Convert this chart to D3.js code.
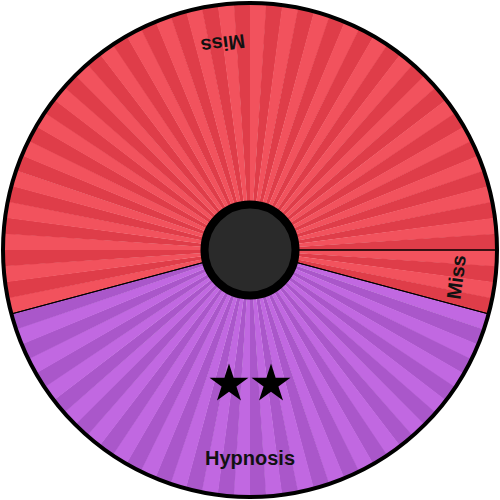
<!DOCTYPE html>
<html>
<head>
<meta charset="utf-8">
<script src="https://cdn.jsdelivr.net/npm/d3@7"></script>
<style>
  html, body { margin: 0; padding: 0; background: #ffffff; }
  svg { display: block; }
</style>
</head>
<body>
<svg id="chart" width="500" height="500"></svg>
<script>
// ---- Data ----
const segmentLabels = ["Miss", "Hypnosis", "Miss"];
const segmentSizes  = [4, 40, 52];          // wheel units (96 total)
const segmentTypes  = ["miss", "status", "miss"];
const segmentStars  = [0, 2, 0];
const wheelStartDeg = 90;                   // first segment starts at 3 o'clock

// ---- Style ----
const palette = {
  miss:   { light: "#f2525d", dark: "#df3d49" },
  status: { light: "#c168e1", dark: "#aa57ca" }
};

const W = 500, H = 500, cx = 250, cy = 250;
const outerR = 247, innerR = 45.5;
const svg = d3.select("#chart");
const g = svg.append("g").attr("transform", `translate(${cx},${cy})`);

const data = segmentLabels.map((label, i) => ({
  label, size: segmentSizes[i], type: segmentTypes[i], stars: segmentStars[i]
}));
const totalUnits = d3.sum(segmentSizes);
const unitAngle = 2 * Math.PI / totalUnits;
const start = wheelStartDeg * Math.PI / 180;

const pie = d3.pie().value(d => d.size).sort(null)
  .startAngle(start).endAngle(start + 2 * Math.PI);
const arcs = pie(data);

const arc = d3.arc().innerRadius(0).outerRadius(outerR);

// stripes: one per wheel unit, alternating shade by global unit index
arcs.forEach(a => {
  const n = a.data.size;
  const stripes = d3.range(n).map(k => {
    const s = a.startAngle + k * unitAngle;
    const idx = Math.round(s / unitAngle);
    return { startAngle: s, endAngle: s + unitAngle, idx };
  });
  g.append("g").selectAll("path").data(stripes).join("path")
    .attr("d", d => arc({ startAngle: d.startAngle, endAngle: d.endAngle + 0.002 }))
    .attr("fill", d => (((d.idx % 2) + 2) % 2 === 0) ? palette[a.data.type].light : palette[a.data.type].dark);
});

// segment boundaries
g.append("g").selectAll("path").data(arcs).join("path")
  .attr("d", arc)
  .attr("fill", "none")
  .attr("stroke", "#000")
  .attr("stroke-width", 1);

// outer rim
g.append("circle").attr("r", outerR).attr("fill", "none")
  .attr("stroke", "#000").attr("stroke-width", 4);

// labels
const labelR = 208;
const deg = r => r * 180 / Math.PI;
arcs.forEach(a => {
  const mid = (a.startAngle + a.endAngle) / 2;
  const x = labelR * Math.sin(mid), y = -labelR * Math.cos(mid);
  g.append("text")
    .attr("transform", `translate(${x},${y}) rotate(${deg(mid) + 180})`)
    .attr("text-anchor", "middle")
    .attr("dominant-baseline", "central")
    .attr("font-family", "'Liberation Sans', Arial, sans-serif")
    .attr("font-weight", "bold")
    .attr("font-size", 20)
    .attr("fill", "#111")
    .text(a.data.label);

  if (a.data.stars > 0) {
    const starR = 132, gap = 42;
    const sx = starR * Math.sin(mid), sy = -starR * Math.cos(mid);
    const sg = g.append("g").attr("transform", `translate(${sx},${sy}) rotate(${deg(mid) + 180})`);
    const star = d3.symbol().type(d3.symbolStar).size(470);
    sg.selectAll("path").data(d3.range(a.data.stars)).join("path")
      .attr("d", star)
      .attr("transform", i => `translate(${(i - (a.data.stars - 1) / 2) * gap},2)`)
      .attr("fill", "#000");
  }
});

// hub
g.append("circle").attr("r", innerR).attr("fill", "#2a2a2a")
  .attr("stroke", "#000").attr("stroke-width", 8);
</script>
</body>
</html>
